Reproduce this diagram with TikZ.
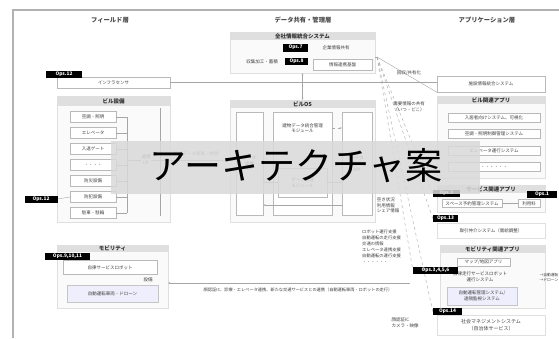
\documentclass[tikz,border=0pt]{standalone}
\usepackage{fontspec}
\setmainfont{Noto Sans CJK JP}
\usetikzlibrary{arrows.meta}
\begin{document}
\begin{tikzpicture}[x=1pt,y=-1pt,
  sm/.style={font=\fontsize{4.5}{5.6}\selectfont, align=center, text=black!75, inner sep=0pt},
  box/.style={draw=gray!55, line width=0.4pt, fill=white, sm},
  hdr/.style={fill=gray!25, draw=none, font=\fontsize{5.5}{6}\selectfont\bfseries, text=black!80, inner sep=0pt},
  cont/.style={draw=gray!25, fill=gray!4, line width=0.3pt, inner sep=0pt},
  ops/.style={fill=black, text=white, font=\fontsize{4.8}{5}\selectfont\bfseries, inner sep=0pt},
  lane/.style={font=\fontsize{6.3}{7}\selectfont\bfseries, text=black!70, inner sep=0pt},
  ln/.style={draw=gray!70, line width=0.4pt},
  tip/.style={-{Stealth[length=2.2pt,width=1.8pt]}},
  frame/.style={draw=gray!60, line width=1.5pt}]
\useasboundingbox (0,0) rectangle (559,338);
\fill[white] (0,0) rectangle (559,338);
\coordinate (f0) at (13,338);
\coordinate (f1) at (13,10);
\coordinate (f2) at (559,10);
\draw[frame] (f0) -- (f1) -- (f2);

% lane titles
\node[lane] (lf) at (110,20) {フィールド層};
\node[lane] (ld) at (303,20) {データ共有・管理層};
\node[lane] (la) at (487,20) {アプリケーション層};

% ---------------- field column
\node[box, minimum width=113, minimum height=11] (infra) at (113.5,82.5) {インフラセンサ};
\node[ops, minimum width=36, minimum height=7] (ops12a) at (64,74) {Ops.12};

\node[cont, minimum width=113, minimum height=126] (bldgc) at (113.5,159) {};
\node[hdr, minimum width=113, minimum height=10] (bldgh) at (113.5,101) {ビル設備};
\node[box, minimum width=46, minimum height=11] (it1) at (93,117) {空調・照明};
\node[box, minimum width=46, minimum height=11] (it2) at (93,133) {エレベータ};
\node[box, minimum width=46, minimum height=11] (it3) at (93,149) {入退ゲート};
\node[box, minimum width=46, minimum height=11] (it4) at (93,165) {・・・・};
\node[box, minimum width=46, minimum height=11] (it5) at (93,181) {防災設備};
\node[box, minimum width=46, minimum height=11] (it6) at (93,197) {防犯設備};
\node[box, minimum width=46, minimum height=11] (it7) at (93,213) {駐車・駐輪};
\coordinate (brx) at (127,0);
\foreach \i in {1,...,7} {\draw[ln] (it\i.east) -- (it\i.east -| brx);}
\draw[ln] (it1.east -| brx) -- (it7.east -| brx);
\coordinate (v1) at (160,108);
\coordinate (v2) at (160,216);
\draw[ln] (v1) -- (v2);
\node[sm] (ifn) at (146,160) {連携\\I/F};
\draw[ln] (ifn.west -| brx) -- (ifn.west);
\node[ops, minimum width=33, minimum height=7] (ops12b) at (41,199) {Ops.12};
\draw[ln] (ops12b.east) -- (it6.west);

% mobility (field)
\node[cont, minimum width=111, minimum height=63] (mobc) at (112.5,276.5) {};
\node[hdr, minimum width=111, minimum height=7] (mobh) at (112.5,248.5) {モビリティ};
\node[box, minimum width=94, minimum height=14] (robo) at (110,267.5) {自律サービスロボット};
\node[sm] (setsubi) at (148,280) {設備};
\node[box, fill=gray!30!blue!8, draw=gray!45, minimum width=91, minimum height=17] (av) at (112.5,293.5) {自動運転車両・ドローン};
\node[ops, minimum width=45, minimum height=7] (ops91011) at (67.5,256.5) {Ops.9,10,11};

% ---------------- data column
\node[cont, minimum width=145, minimum height=41] (zenc) at (302.5,52.5) {};
\node[hdr, minimum width=145, minimum height=8] (zenh) at (302.5,36) {全社情報統合システム};
\node[ops, minimum width=25, minimum height=8] (ops7) at (295.5,47.5) {Ops.7};
\node[sm] (kigyo) at (336,48) {企業情報共有};
\node[sm] (shushu) at (262,62) {収集加工・蓄積};
\node[ops, minimum width=23, minimum height=7] (ops8) at (296.5,61.5) {Ops.8};
\node[box, minimum width=59, minimum height=11] (renkei) at (342.5,64.5) {情報連携基盤};

\node[cont, minimum width=145, minimum height=122] (biosc) at (302.5,161) {};
\node[hdr, minimum width=145, minimum height=8] (biosh) at (302.5,104) {ビルOS};
\draw[ln, {Stealth[length=2.2pt,width=1.8pt]}-{Stealth[length=2.2pt,width=1.8pt]}] (zenc.south) -- (biosh.north);
\node[box, minimum width=27, minimum height=103] (biosl) at (249.5,163.5) {データ\\連携\\I/F};
\node[box, minimum width=59, minimum height=103] (biosm) at (302.5,163.5) {};
\node[box, minimum width=30, minimum height=103] (biosr) at (357,163.5) {データ\\提供\\API};
\node[sm] (mtop) at (302.5,128) {建物データ統合管理\\モジュール};
\node[box, minimum width=49, minimum height=29] (dm) at (302.5,182.5) {データ管理\\モジュール};
\draw[ln, dashed, tip] (mtop.east -| biosm.east) -- (mtop.east -| biosr.west);
\draw[ln, tip] (dm.west) -- (dm.west -| biosl.east);
\draw[ln, tip] (dm.east) -- (dm.east -| biosr.west);
\coordinate (bb) at (0,205);
\draw[ln, tip] (bb -| biosr.west) -- (bb -| biosl.east);
\node[sm, text=black!55] (fdl) at (196,154) {設備データ収集・制御};
\draw[ln, tip] (ifn.east) -- (ifn.east -| biosl.west);

% ---------------- application column
\node[box, minimum width=108, minimum height=16] (yuryo) at (491,84) {施設情報統合システム};
\draw[ln] (infra.east) -- (infra.east -| yuryo.west);

\node[cont, minimum width=108, minimum height=82] (bappc) at (491,137) {};
\node[hdr, minimum width=108, minimum height=8] (bapph) at (491,100) {ビル関連アプリ};
\node[box, minimum width=92, minimum height=9] (ap1) at (494,117.5) {入居者向けシステム、可視化};
\node[box, minimum width=92, minimum height=9] (ap2) at (494,134) {空調・照明制御管理システム};
\node[box, minimum width=92, minimum height=9] (ap3) at (494,151) {エレベータ運行システム};
\node[box, minimum width=92, minimum height=9] (ap4) at (494,167) {・・・・・・};

\node[cont, minimum width=108, minimum height=27] (sappc) at (491,198.5) {};
\node[hdr, minimum width=108, minimum height=8] (sapph) at (491,189) {サービス関連アプリ};
\node[box, minimum width=60, minimum height=8] (space) at (472,203.5) {スペース予約管理システム};
\node[box, minimum width=22, minimum height=8] (ryokin) at (529,203.5) {利用料};
\draw[ln] (space.east) -- (ryokin.west);
\node[ops, minimum width=27, minimum height=7] (ops2) at (446.5,193.5) {Ops.2};
\node[ops, minimum width=30, minimum height=7] (ops1) at (542,194.5) {Ops.1};
\node[sm, align=left] (akij) at (388,205.5) {空き状況\\利用情報\\シェア情報};
\node[ops, minimum width=25, minimum height=7] (ops13) at (445.5,218.5) {Ops.13};
\node[box, draw=gray!25, minimum width=108, minimum height=15] (trade) at (491,230.5) {取引仲介システム（需給調整）};

\node[cont, minimum width=105, minimum height=63] (mappc) at (492.5,276.5) {};
\node[hdr, minimum width=105, minimum height=8] (mapph) at (492.5,249) {モビリティ関連アプリ};
\node[box, minimum width=53, minimum height=8] (mapa) at (483.5,262.5) {マップ/地図アプリ};
\node[sm] (robs) at (480,277) {自律走行サービスロボット\\運行システム};
\node[sm, font=\fontsize{3.8}{5}\selectfont, align=left] (jido) at (549,277) {→自動運転\\→ドローン};
\node[box, fill=gray!30!blue!8, draw=gray!45, minimum width=70, minimum height=18] (avm) at (482,296) {自動運転管理システム/\\遠隔監視システム};
\node[box, draw=gray!25, minimum width=108, minimum height=20, font=\fontsize{5}{6.5}\selectfont] (social) at (491,325) {社会マネジメントシステム\\（自治体サービス）};
\node[ops, minimum width=29, minimum height=7] (ops14) at (447.5,311.5) {Ops.14};
\node[ops, minimum width=45, minimum height=7] (ops3456) at (435.5,270) {Ops.3,4,5,6};
\node[sm, align=left] (kao) at (405,323) {顔認証IC\\カメラ・映像};
\node[sm, align=left, anchor=north west, font=\fontsize{4.3}{6}\selectfont] (tb) at (362,229.5) {ロボット運行支援\\自動運転の走行支援\\交通の情報\\エレベータ連携支援\\自動運転の運行支援\\・・・・・・};

% diagonal links
\coordinate (P) at (377,57);
\draw[ln] (zenc.east |- P) -- (P);
\draw[ln] (P) -- (yuryo.south west);
\draw[ln, dashed] (P) -- (ops2.west);
\draw[ln, dashed] (P) -- (ops13.west);
\draw[ln, dashed] (P) -- (ops3456.west);
\draw[ln, dashed] (P) -- (ops14.west);
\node[sm] (kaishu) at (409,73) {回収/共有化};
\node[sm] (juyo) at (409,107) {需要情報の共有\\（いつ・どこ）};

% bottom link to field mobility
\coordinate (hl) at (410,283);
\draw[ln, tip] (hl) -- (hl -| mobc.east);
\node[sm, font=\fontsize{4.2}{5}\selectfont] (hll) at (298,290) {顔認証IC、診療・エレベータ連携、新たな交通サービスとの連携（自動運転車両・ロボットの走行）};

% overlay title band
\node[fill=gray!30, opacity=0.85, minimum width=369, minimum height=53, inner sep=0pt] (band) at (295.5,167.5) {};
\node[font=\fontsize{37}{38}\selectfont, text=black, inner sep=0pt] (title) at (296,166) {アーキテクチャ案};
\end{tikzpicture}
\end{document}
